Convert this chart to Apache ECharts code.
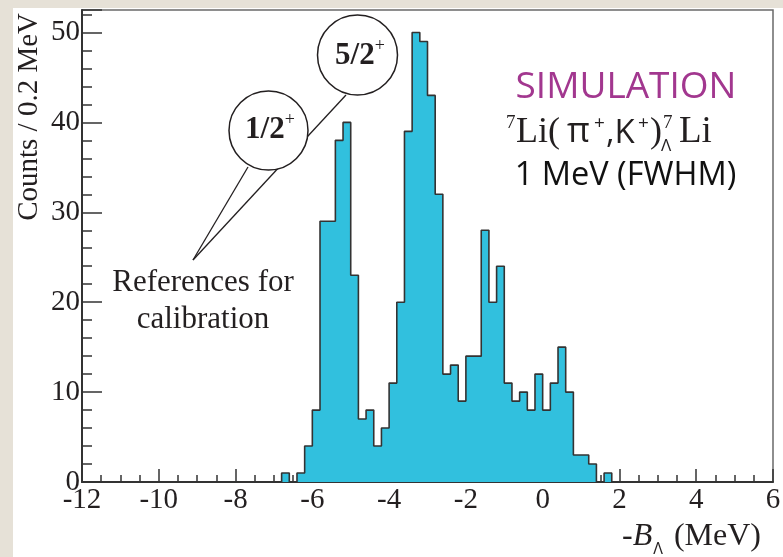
<!DOCTYPE html>
<html><head><meta charset="utf-8">
<script src="https://cdn.jsdelivr.net/npm/echarts@6/dist/echarts.min.js"></script>
<style>html,body{margin:0;padding:0;background:#fff}#c{width:783px;height:557px}</style>
</head><body><div id="c"></div>
<script>
// ---- data (histogram, 0.2 MeV bins; left edge of each bin) ----
const binLeft = [-7.0,-6.8,-6.6,-6.4,-6.2,-6.0,-5.8,-5.6,-5.4,-5.2,-5.0,-4.8,-4.6,-4.4,-4.2,-4.0,-3.8,-3.6,-3.4,-3.2,-3.0,-2.8,-2.6,-2.4,-2.2,-2.0,-1.8,-1.6,-1.4,-1.2,-1.0,-0.8,-0.6,-0.4,-0.2,0.0,0.2,0.4,0.6,0.8,1.0,1.2,1.4,1.6,1.8];
const counts  = [0,1,0,1,4,8,29,29,38,40,23,7,8,4,6,11,20,39,50,49,43,32,12,13,9,14,14,28,20,24,11,9,10,8,12,8,11,15,10,3,3,2,0,1,0];
const histRightEdge = 2.0;
const xTickLabels = [-12,-10,-8,-6,-4,-2,0,2,4,6];
const yTickLabels = [0,10,20,30,40,50];
const yTitle = 'Counts / 0.2 MeV';
const stateLabels = ['1/2', '5/2'];
const noteLines = ['References for', 'calibration'];

const serif = "'Liberation Serif','Times New Roman',serif";
const sans = "'Open Sans','Noto Sans',sans-serif";
const ink = '#231f20';

const mctx = document.createElement('canvas').getContext('2d');
function measure(t, s){ mctx.font = (s.style||'normal')+' '+(s.weight||'normal')+' '+s.size+'px '+s.family; return mctx.measureText(t).width; }
function run(segs, x0, baseY, align){
  const items = segs.map(s => ({s, w: s.noAdvance ? 0 : measure(s.text, s) + (s.gap||0)}));
  const total = items.reduce((a,b)=>a+b.w,0);
  let x = align==='center' ? x0-total/2 : (align==='right' ? x0-total : x0);
  return items.map(it => {
    const s = it.s;
    if (s.at != null) x = s.at;
    const el = {type:'text', z:100, x: x+(s.dx||0), y: baseY+(s.dy||0)-0.3*s.size,
      style:{text:s.text, fontFamily:s.family, fontSize:s.size, fontStyle:s.style||'normal', fontWeight:s.weight||'normal',
             fill:s.color||ink, align:'left', verticalAlign:'middle'}};
    x += it.w;
    return el;
  });
}

const histData = binLeft.map((x,i)=>[x, counts[i]]);
histData.push([histRightEdge, 0]);

const graphics = [
  {type:'rect', z:0, shape:{x:0,y:0,width:13,height:557}, style:{fill:'#e6e1d7'}},
  {type:'rect', z:0, shape:{x:0,y:0,width:783,height:8}, style:{fill:'#e6e1d7'}},
  // pointer lines
  {type:'line', z:90, shape:{x1:346,y1:95,x2:193,y2:260}, style:{stroke:ink, lineWidth:1.3}},
  {type:'line', z:90, shape:{x1:248,y1:167,x2:193,y2:260}, style:{stroke:ink, lineWidth:1.3}},
  {type:'circle', z:95, shape:{cx:268.5,cy:130.5,r:39.5}, style:{fill:'#fff', stroke:ink, lineWidth:1.5}},
  {type:'circle', z:95, shape:{cx:357.5,cy:55,r:40}, style:{fill:'#fff', stroke:ink, lineWidth:1.5}},
  {type:'text', z:100, x:203, y:283, style:{text:noteLines[0], fontFamily:serif, fontSize:31, fill:ink, align:'center', verticalAlign:'middle'}},
  {type:'text', z:100, x:203, y:320, style:{text:noteLines[1], fontFamily:serif, fontSize:31, fill:ink, align:'center', verticalAlign:'middle'}},
  {type:'text', z:100, x:626, y:87, style:{text:'SIMULATION', fontFamily:sans, fontSize:37, fill:'#a2378f', align:'center', verticalAlign:'middle'}},
  {type:'text', z:100, x:625.5, y:176, style:{text:'1 MeV (FWHM)', fontFamily:sans, fontSize:32.5, fill:'#111', align:'center', verticalAlign:'middle'}}
];
graphics.push(...run([
  {text:stateLabels[0], family:serif, size:31, weight:'bold'},
  {text:'+', family:serif, size:18, dy:-13}
], 270, 139, 'center'));
graphics.push(...run([
  {text:stateLabels[1], family:serif, size:31, weight:'bold'},
  {text:'+', family:serif, size:18, dy:-13}
], 360, 65, 'center'));
// reaction label
graphics.push(...run([
  {text:'7', family:serif, size:19, dy:-14, at:506},
  {text:'Li(', family:serif, size:36, at:516},
  {text:'\u03c0', family:sans, size:35, at:567},
  {text:'+', family:sans, size:19, dy:-14, at:594},
  {text:',K', family:sans, size:33, at:606},
  {text:'+', family:sans, size:19, dy:-14, at:638},
  {text:')', family:serif, size:36, at:650},
  {text:'7', family:serif, size:19, dy:-14, at:663},
  {text:'\u039b', family:sans, size:17, dy:8, at:661},
  {text:'Li', family:serif, size:37, at:679}
], 0, 143, 'left'));
// x-axis title, right aligned at the axis end
graphics.push(...run([
  {text:'-', family:serif, size:32},
  {text:'B', family:serif, size:32, style:'italic', gap:1},
  {text:'\u039b', family:sans, size:16, dy:8, gap:3},
  {text:' (MeV)', family:serif, size:32}
], 761, 546, 'right'));

const chart = echarts.init(document.getElementById('c'));
chart.setOption({
  backgroundColor:'#fff',
  animation:false,
  grid:{left:82, right:10, top:10, bottom:75, show:true, borderColor:'#6a6a6a', borderWidth:1.5,
        containLabel:false, outerBoundsMode:'none'},
  xAxis:{type:'value', min:xTickLabels[0], max:xTickLabels[xTickLabels.length-1], interval:2,
    axisLine:{onZero:false, lineStyle:{color:'#333', width:2}},
    axisTick:{inside:true, length:13, lineStyle:{color:'#333', width:1.5}},
    minorTick:{show:true, splitNumber:4, length:7, lineStyle:{color:'#333', width:1.5}},
    splitLine:{show:false}, minorSplitLine:{show:false},
    axisLabel:{fontFamily:serif, fontSize:29, color:ink, margin:4}
  },
  yAxis:{type:'value', min:0, max:52.5, interval:10,
    axisLine:{onZero:false, lineStyle:{color:'#333', width:2}},
    axisTick:{inside:true, length:20, lineStyle:{color:'#333', width:1.5}},
    minorTick:{show:true, splitNumber:5, length:10, lineStyle:{color:'#333', width:1.5}},
    splitLine:{show:false}, minorSplitLine:{show:false},
    axisLabel:{fontFamily:serif, fontSize:29, color:ink, margin:2, showMaxLabel:false, padding:[0,0,8,0],
      formatter:v => yTickLabels.includes(v) ? String(v) : ''},
    name:yTitle, nameLocation:'end', nameGap:-3, nameRotate:90,
    nameTextStyle:{fontFamily:serif, fontSize:29, color:ink, align:'right', verticalAlign:'bottom', padding:[0,0,38,0]}
  },
  series:[{type:'line', step:'end', data:histData, symbol:'none', z:5,
    lineStyle:{color:'#333', width:1.6}, areaStyle:{color:'#31c0de', opacity:1}}],
  graphic:graphics
});
</script></body></html>
